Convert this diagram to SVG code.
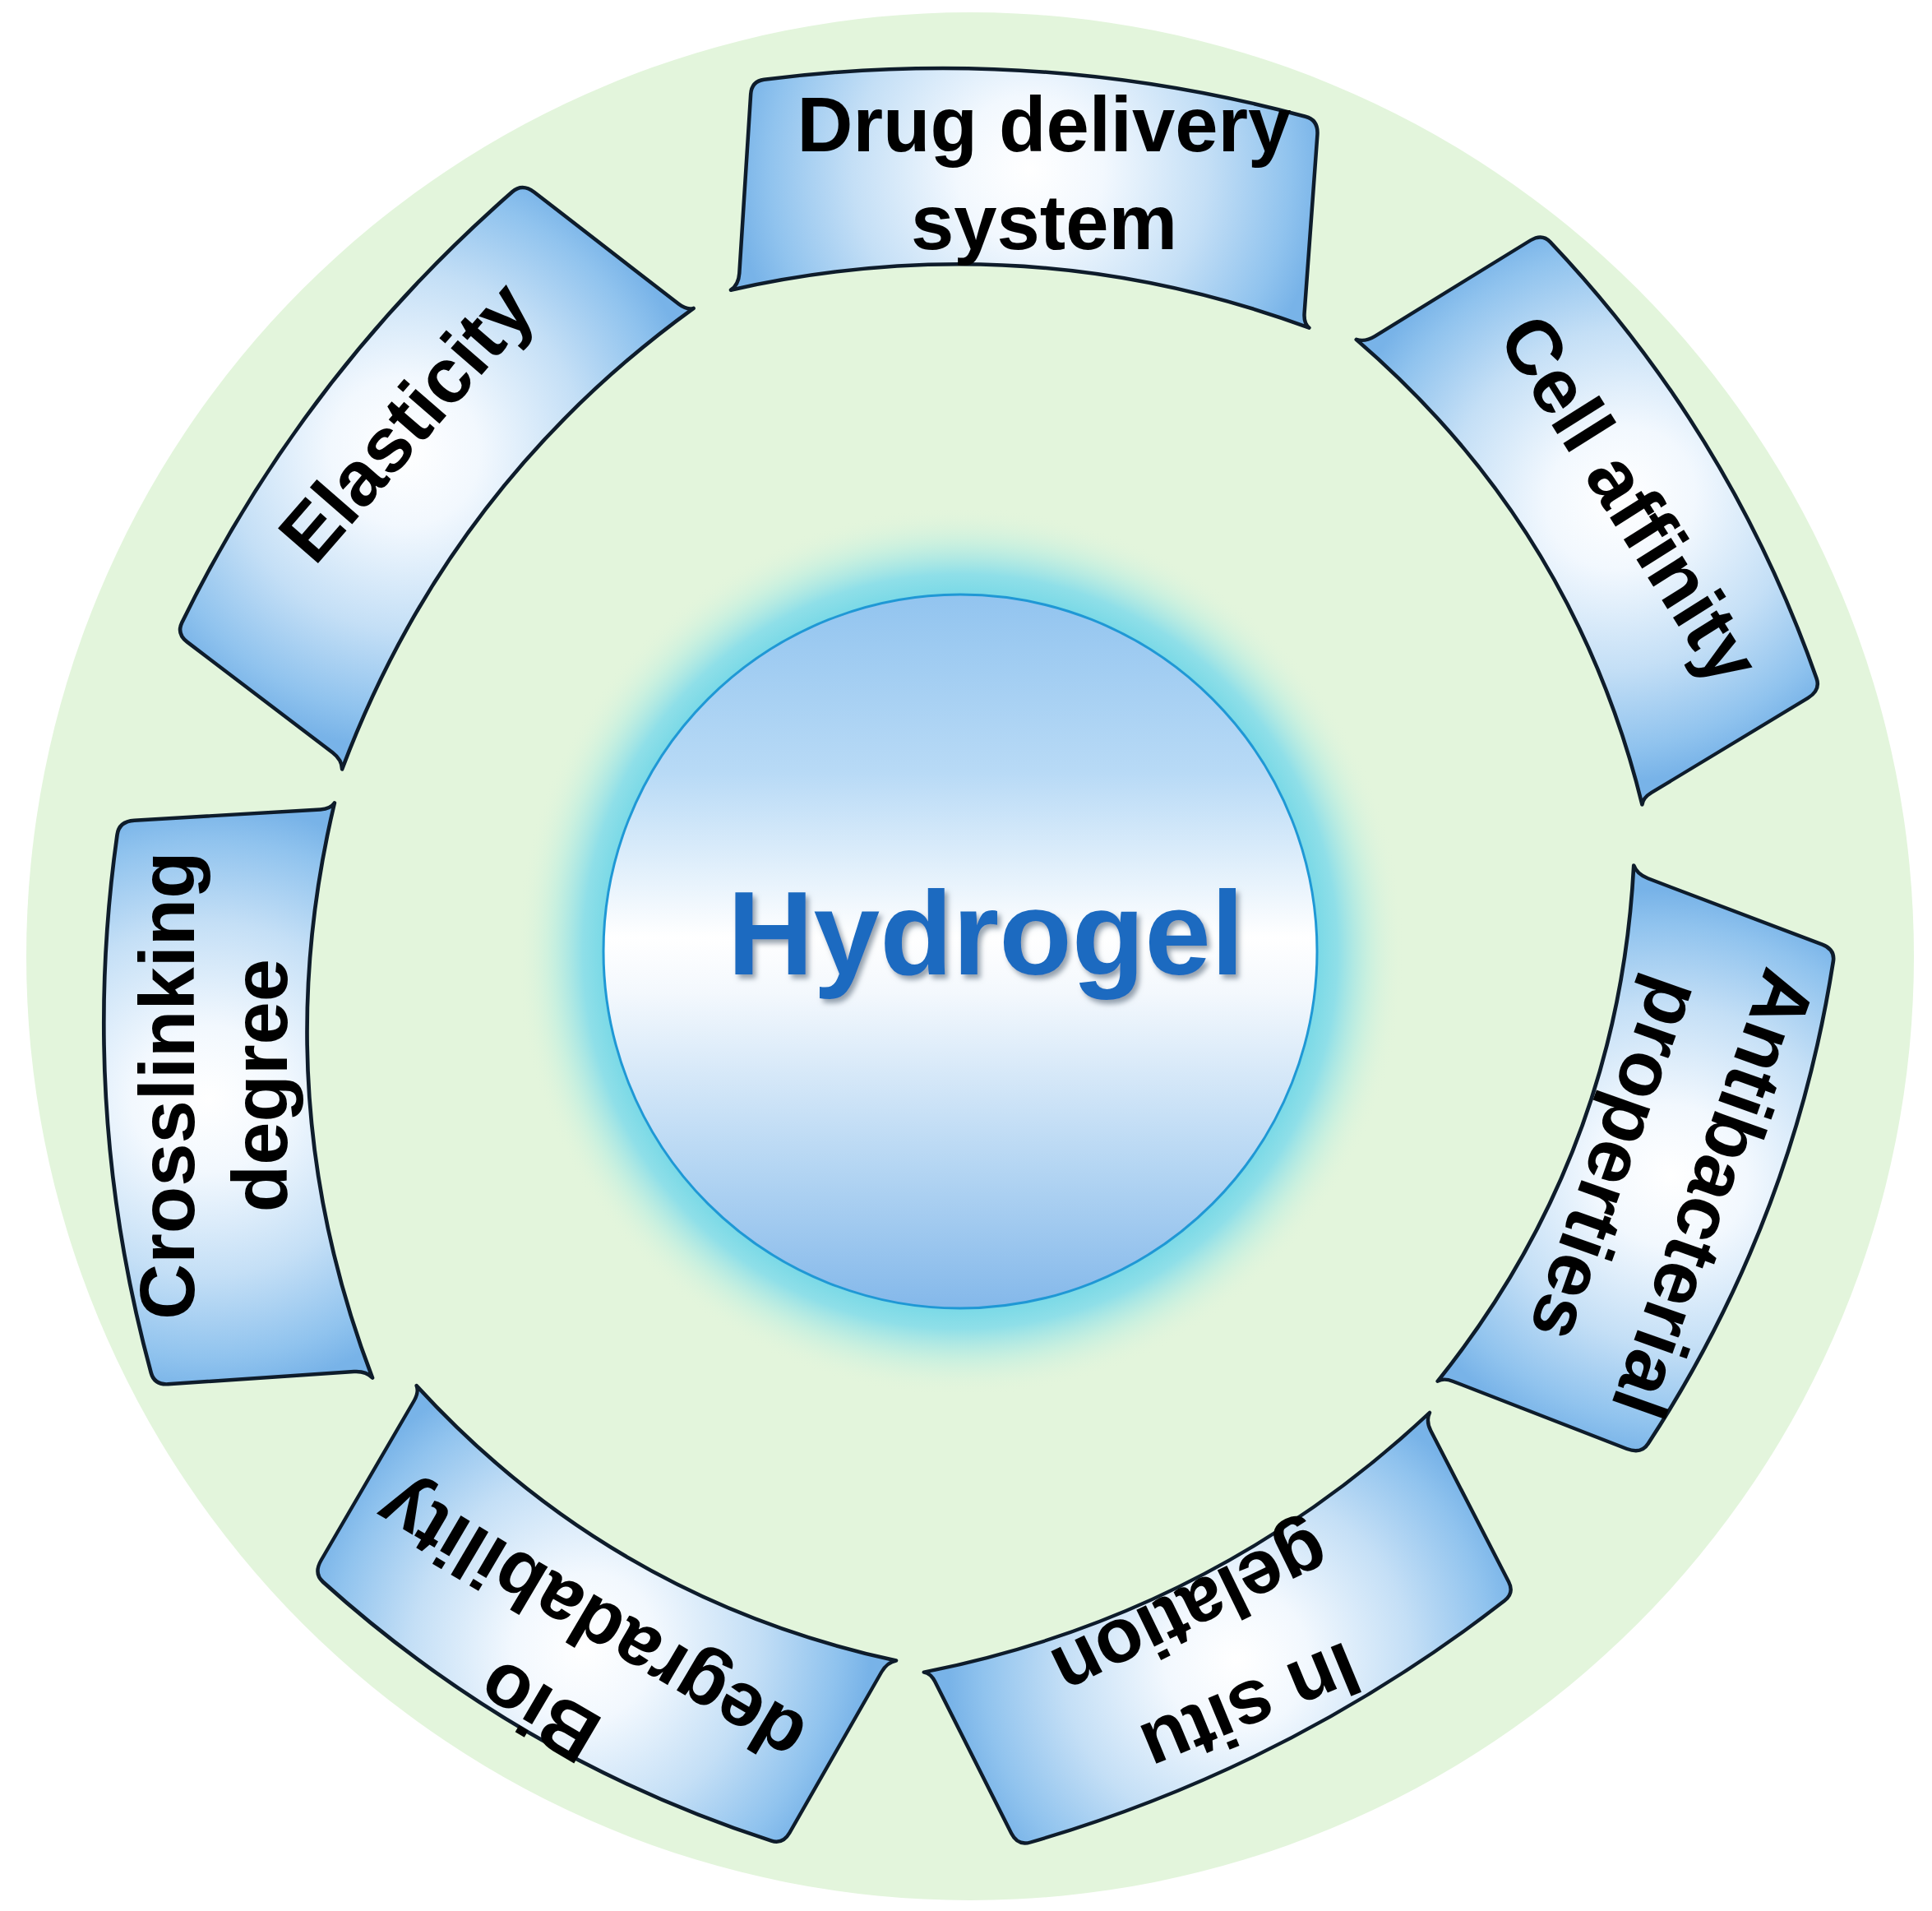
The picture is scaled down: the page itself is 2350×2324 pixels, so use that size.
<svg xmlns="http://www.w3.org/2000/svg" width="2350" height="2324" viewBox="0 0 2350 2324">
<style>
.banner{fill:url(#band);stroke:#0e1c2b;stroke-width:4.5;vector-effect:non-scaling-stroke;stroke-linejoin:round}
.lbl{font-family:"Liberation Sans",Arial,sans-serif;font-weight:bold;font-size:94px;fill:#000;text-anchor:middle}
.core-text{font-family:"Liberation Sans",Arial,sans-serif;font-weight:bold;font-size:145px;fill:#1a6bc0;text-anchor:middle}
</style>
<defs>
<radialGradient id="glow" cx="1168" cy="1157" r="540" gradientUnits="userSpaceOnUse">
<stop offset="0.78" stop-color="#6fd6e6"/>
<stop offset="0.85" stop-color="#8fdfe8"/>
<stop offset="0.92" stop-color="#bfeee0" stop-opacity="0.7"/>
<stop offset="1" stop-color="#e2f4db" stop-opacity="0"/>
</radialGradient>
<linearGradient id="core" x1="0" y1="0" x2="0" y2="1">
<stop offset="0" stop-color="#92c4ef"/>
<stop offset="0.25" stop-color="#b8daf6"/>
<stop offset="0.48" stop-color="#ffffff"/>
<stop offset="0.56" stop-color="#f3f8fd"/>
<stop offset="0.8" stop-color="#b5d6f3"/>
<stop offset="1" stop-color="#84b8ea"/>
</linearGradient>
<radialGradient id="band" cx="0" cy="-40" r="360" gradientUnits="userSpaceOnUse">
<stop offset="0" stop-color="#ffffff"/>
<stop offset="0.25" stop-color="#f2f8fe"/>
<stop offset="0.6" stop-color="#c4dff6"/>
<stop offset="0.88" stop-color="#90c3ee"/>
<stop offset="1" stop-color="#78b3e8"/>
</radialGradient>
<path id="tpl" d="M -353,131 Q -344,124 -344,110 L -345,-108 Q -345,-124 -330,-127 Q 0,-192 330,-127 Q 346,-124 346,-106 L 345,112 Q 345,124 352,129 Q 0,26 -353,131 Z"/>
<filter id="shadow" x="-10%" y="-20%" width="120%" height="150%">
<feDropShadow dx="4" dy="5" stdDeviation="3" flood-color="#6b7a8a" flood-opacity="0.7"/>
</filter>
</defs>
<rect width="2350" height="2324" fill="#ffffff"/>
<circle id="ring" cx="1180" cy="1163" r="1148" fill="#e3f5dc"/>
<g id="connectors"/>
<g id="hydrogel">
<circle cx="1168" cy="1157" r="540" fill="url(#glow)"/>
<circle cx="1168" cy="1157" r="434" fill="url(#core)" stroke="#1f98d5" stroke-width="3"/>
<text class="core-text" x="1199" y="1185" filter="url(#shadow)">Hydrogel</text>
</g>
<g id="drug-delivery">
<use href="#tpl" class="banner" transform="translate(1250,246) rotate(3.9)"/>
<text class="lbl" x="1270" y="184">Drug delivery</text>
<text class="lbl" x="1270" y="303">system</text>
</g>
<g id="cell-affinity">
<use href="#tpl" class="banner" transform="translate(1937,627) rotate(58.6) scale(0.942,1.02)"/>
<text class="lbl" transform="translate(1982,607) rotate(57.8)" y="32">Cell affinity</text>
</g>
<g id="antibacterial">
<use href="#tpl" class="banner" transform="translate(1994,1415) rotate(111) scale(0.952,1.04)"/>
<text class="lbl" transform="translate(2022,1430) rotate(109.5)"><tspan x="0" y="-34">Antibacterial</tspan><tspan x="0" y="91">properties</tspan></text>
</g>
<g id="in-situ-gelation">
<use href="#tpl" class="banner" transform="translate(1487,1986) rotate(153) scale(0.981,0.95)"/>
<text class="lbl" transform="translate(1497,2019) rotate(157.5)" x="0" y="-32">In situ</text>
<text class="lbl" transform="translate(1435,1932) rotate(154)" x="0" y="0">gelation</text>
</g>
<g id="biodegradability">
<use href="#tpl" class="banner" transform="translate(731,1968) rotate(210) scale(0.954,1.03)"/>
<text class="lbl" transform="translate(687.5,2026) rotate(210.5)"><tspan x="0" y="-32">Bio</tspan><tspan x="0" y="93">degradability</tspan></text>
</g>
<g id="crosslinking-degree">
<use href="#tpl" class="banner" transform="translate(295,1334) rotate(266.4) scale(0.994,1.04)"/>
<text class="lbl" transform="translate(263,1320) rotate(270)"><tspan x="0" y="-27">Crosslinking</tspan><tspan x="0" y="86">degree</tspan></text>
</g>
<g id="elasticity">
<use href="#tpl" class="banner" transform="translate(525,574) rotate(307.5) scale(1,1.02)"/>
<text class="lbl" transform="translate(494,513) rotate(311)" y="32">Elasticity</text>
</g>
</svg>
